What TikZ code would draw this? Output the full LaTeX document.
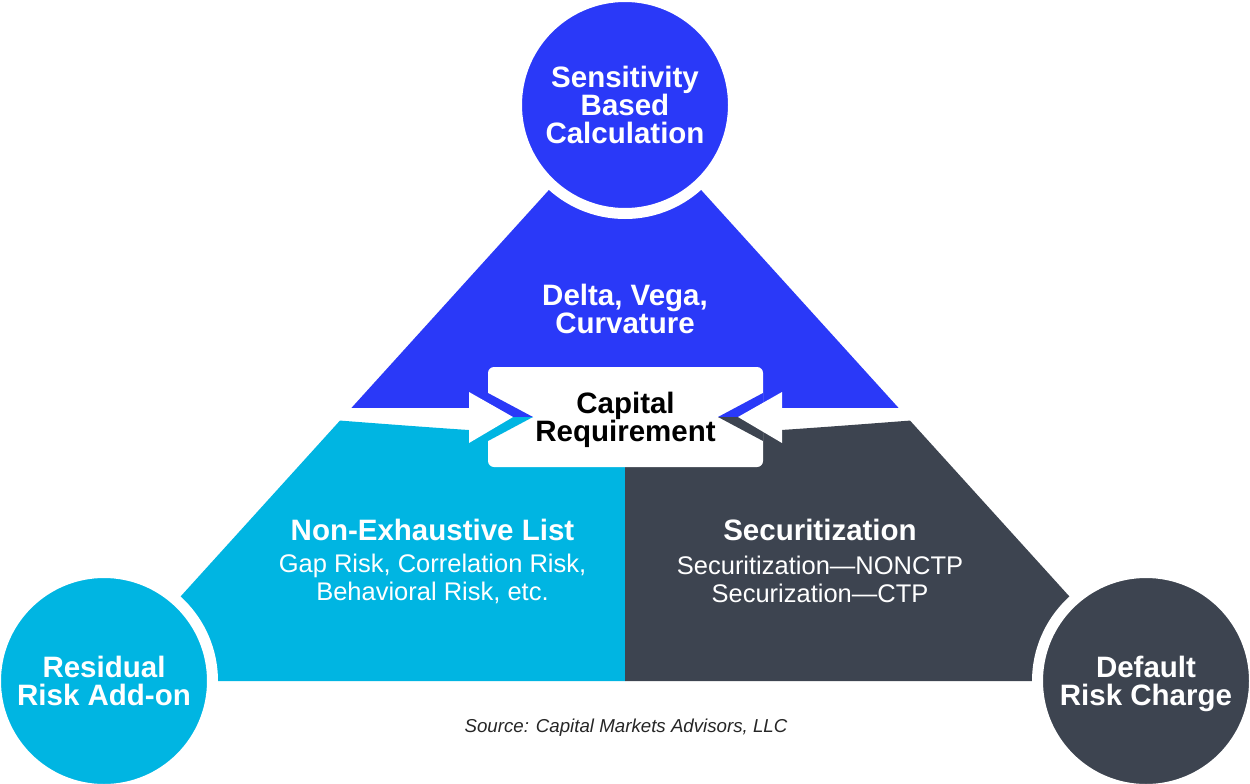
\documentclass[tikz,border=0pt]{standalone}
\usepackage{fontspec}
\setmainfont{Liberation Sans}
\usetikzlibrary{positioning}
\definecolor{royal}{RGB}{42,57,248}
\definecolor{sky}{RGB}{0,181,226}
\definecolor{slate}{RGB}{61,68,80}

\tikzset{
	hub/.style={circle, minimum size=217pt, inner sep=0pt, draw=white, line width=11pt, text=white, align=center, text depth=0pt, font=\bfseries\fontsize{29.5}{28}\selectfont},
	head/.style={text=white, align=center, inner sep=0pt, font=\bfseries\fontsize{29.5}{28}\selectfont},
	body/.style={text=white, align=center, inner sep=0pt, font=\fontsize{25.5}{28}\selectfont},
	capbox/.style={fill=white, rounded corners=6pt, minimum width=275pt, minimum height=100pt, outer sep=0pt, align=center, text depth=0pt, font=\bfseries\fontsize{29.5}{28}\selectfont}
}

\begin{document}
\begin{tikzpicture}[x=1pt, y=-1pt]
	\useasboundingbox (0,0) rectangle (1250,784);
	\coordinate (apex) at (625,106);
	\coordinate (lft) at (104,681);
	\coordinate (rgt) at (1146,681);
	\coordinate (mid) at (625,681);
	
	% upper part
	\begin{scope}
		\clip (0,0) rectangle (1250,407.5);
		\fill[royal] (apex) -- (lft) -- (rgt) -- cycle;
	\end{scope}
	% lower parts
	\begin{scope}
		\clip (0,417.5) -- (300,417.5) .. controls (625,442.5) .. (950,417.5) -- (1250,417.5) -- (1250,784) -- (0,784) -- cycle;
		\fill[sky] (apex) -- (lft) -- (mid) -- cycle;
		\fill[slate] (apex) -- (mid) -- (rgt) -- cycle;
	\end{scope}
	
	\node[hub, fill=royal] (sens) at (625,105) {Sensitivity\\Based\\Calculation};
	\node[hub, fill=sky] (resid) at (lft) {Residual\\Risk Add-on};
	\node[hub, fill=slate] (dflt) at (rgt) {Default\\Risk Charge};
	
	\node[capbox] (capreq) at (625.5,417) {Capital\\Requirement};
	% notches and arrows
	\fill[royal] (capreq.west) -- ++(0,-24) -- ++(45,24) -- cycle;
	\fill[sky] (capreq.west) -- ++(0,24) -- ++(45,-24) -- cycle;
	\fill[white] (capreq.west) ++(-19,-25) -- ++(44,25) -- ++(-44,26) -- cycle;
	\fill[royal] (capreq.east) -- ++(0,-24) -- ++(-45,24) -- cycle;
	\fill[slate] (capreq.east) -- ++(0,24) -- ++(-45,-24) -- cycle;
	\fill[white] (capreq.east) ++(19,-25) -- ++(-44,25) -- ++(44,26) -- cycle;
	
	\node[head] (greeks) at (625,308.5) {Delta, Vega,\\Curvature};
	\node[head] (nonexh) at (432.5,530) {Non-Exhaustive List};
	\node[body] (gaps) at (432.5,579) {Gap Risk, Correlation Risk,\\Behavioral Risk, etc.};
	\node[head] (secur) at (820,530) {Securitization};
	\node[body] (ctp) at (820,579) {Securitization—NONCTP\\Securization—CTP};
	
	\node[text=black!85, font=\itshape\fontsize{18.7}{20}\selectfont] (source) at (626,728) {Source: Capital Markets Advisors, LLC};
\end{tikzpicture}
\end{document}
